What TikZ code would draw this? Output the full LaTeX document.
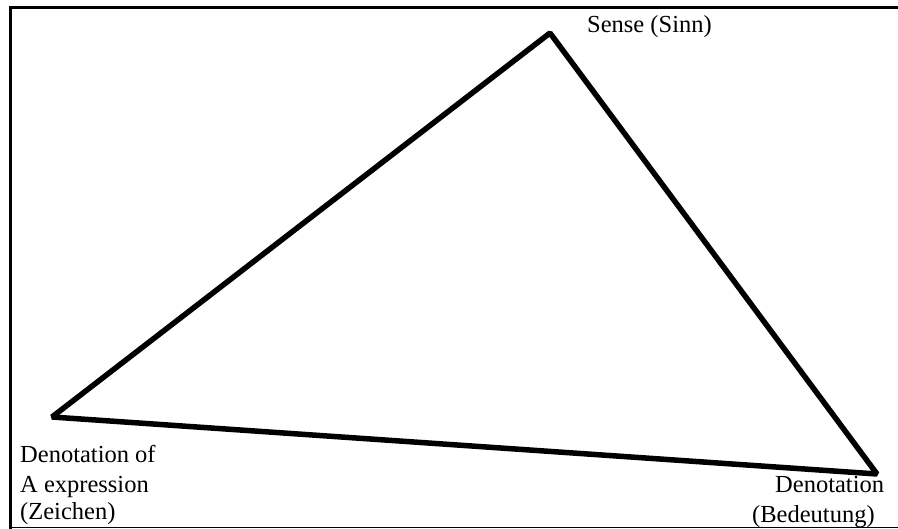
\documentclass[tikz,border=0pt]{standalone}
\usepackage{fontspec}
\setmainfont{Liberation Serif}
\usepackage{tikz}
\usetikzlibrary{positioning}

\begin{document}
\begin{tikzpicture}[
  x=1pt, y=-1pt,
  edge/.style={draw=black, line width=5.5pt, line join=bevel},
  frame/.style={draw=black, line width=3pt},
  lbl/.style={inner sep=0pt, anchor=base west, font=\fontsize{24.5}{29}\selectfont}
]
\useasboundingbox (0,0) rectangle (898,529);

% ============================================================
% Frame (open on the right)
\draw[frame] (898,7.5) -- (10.5,7.5) -- (10.5,529);
\draw[black, line width=1pt] (10.5,528) -- (898,528);

% ============================================================
% Corners of the triangle
\coordinate (sinn) at (550,33);
\coordinate (zeichen) at (52,417);
\coordinate (bedeutung) at (877,474);

\draw[edge] (zeichen) -- (sinn) -- (bedeutung) -- cycle;

% ============================================================
% Labels
\node[lbl] (sense) at (587,33) {Sense (Sinn)};

\node[lbl] (sign1) at (20,463) {Denotation of};
\node[lbl] (sign2) at (20,493) {A expression};
\node[lbl] (sign3) at (20,520) {(Zeichen)};

\node[lbl] (ref1) at (775,493) {Denotation};
\node[lbl] (ref2) at (752,522) {(Bedeutung)};

\end{tikzpicture}
\end{document}
